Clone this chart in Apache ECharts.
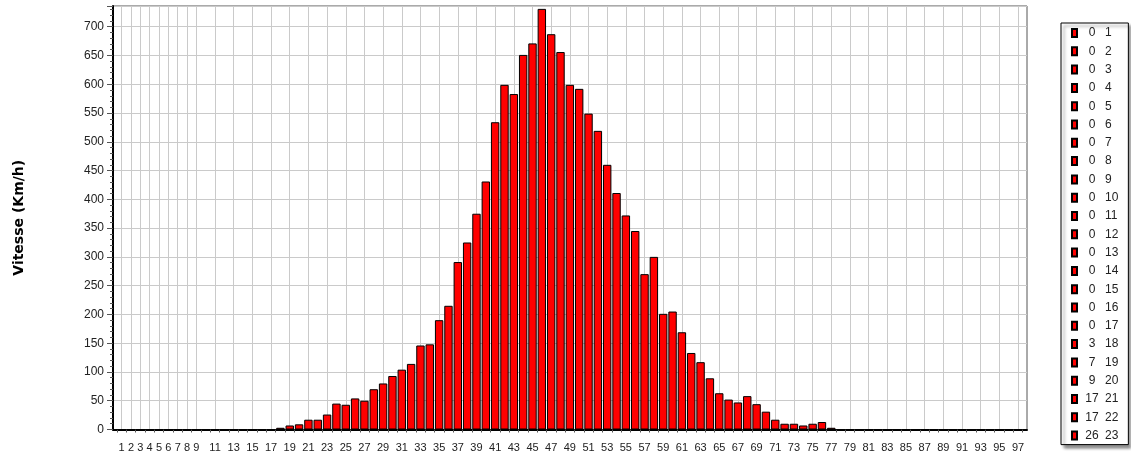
<!DOCTYPE html>
<html><head><meta charset="utf-8">
<script src="https://cdn.jsdelivr.net/npm/echarts@6/dist/echarts.min.js"></script>
<style>html,body{margin:0;padding:0;background:#fff}#c{width:1131px;height:460px}</style>
</head><body><div id="c"></div>
<script>
const categories = ['1','2','3','4','5','6','7','8','9','10','11','12','13','14','15','16','17','18','19','20',
'21','22','23','24','25','26','27','28','29','30','31','32','33','34','35','36','37','38','39','40',
'41','42','43','44','45','46','47','48','49','50','51','52','53','54','55','56','57','58','59','60',
'61','62','63','64','65','66','67','68','69','70','71','72','73','74','75','76','77','78','79','80',
'81','82','83','84','85','86','87','88','89','90','91','92','93','94','95','96','97'];
const values = [0,0,0,0,0,0,0,0,0,0,0,0,0,0,0,0,0,
3,7,9,17,17,26,45,43,54,50,70,80,93,104,114,146,148,
190,215,291,325,375,431,
534,599,583,651,671,731,687,656,599,592,
549,519,460,411,372,345,270,300,201,205,
169,133,117,89,63,52,47,58,44,31,
17,10,10,7,10,13,3,
0,0,0,0,0,0,0,0,0,0,0,0,0,0,0,0,0,0,0,0];
const legendCount = 23;
const yTitle = 'Vitesse (Km/h)';
const yMax = 736;

const legendNames = [];
for (let i = 0; i < legendCount; i++) legendNames.push(values[i] + ' ' + categories[i]);

const showCat = (idx, val) => { const n = +val; return n <= 9 || n % 2 === 1; };
const barStyle = { color: '#ff0000', borderColor: '#000', borderWidth: 1 };

const series = [{
  name: 'values', type: 'bar', data: values, xAxisIndex: 1, yAxisIndex: 1,
  stack: 's', barCategoryGap: '10%', itemStyle: barStyle, silent: true
}];
legendNames.forEach(n => series.push({
  name: n, type: 'bar', data: [], xAxisIndex: 1, yAxisIndex: 1, stack: 's', itemStyle: barStyle
}));

const chart = echarts.init(document.getElementById('c'), null, { renderer: 'canvas' });
chart.setOption({
  animation: false,
  backgroundColor: '#fff',
  textStyle: { fontFamily: 'Liberation Sans, Arial, sans-serif' },
  grid: [
    { left: 113, top: 6, width: 914, height: 423.5, show: true, borderColor: '#555', borderWidth: 1, backgroundColor: 'transparent' },
    { left: 117, top: 6, width: 905.7, height: 423.5 }
  ],
  xAxis: [
    { type: 'value', gridIndex: 0, min: 0, max: 1,
      axisLine: { show: true, onZero: false, lineStyle: { color: '#000', width: 2 } },
      axisTick: { show: false }, axisLabel: { show: false }, splitLine: { show: false } },
    { type: 'category', gridIndex: 1, data: categories,
      axisLine: { show: false },
      axisTick: { show: true, interval: 0, length: 3, lineStyle: { color: '#555' } },
      axisLabel: { interval: showCat, color: '#222', fontSize: 11, margin: 13 },
      splitLine: { show: true, interval: showCat, alignWithLabel: true, lineStyle: { color: '#cacaca', width: 1 } } }
  ],
  yAxis: [
    { type: 'value', gridIndex: 0, min: 0, max: yMax, interval: 50,
      name: yTitle, nameLocation: 'middle', nameGap: 87,
      nameTextStyle: { fontFamily: 'DejaVu Sans', fontWeight: 'bold', fontSize: 14, color: '#000' },
      axisLine: { show: true, lineStyle: { color: '#000', width: 2 } },
      axisTick: { show: true, length: 6, lineStyle: { color: '#555' } },
      minorTick: { show: true, splitNumber: 5, length: 3, lineStyle: { color: '#555' } },
      axisLabel: { color: '#222', fontSize: 12, margin: 9, formatter: v => (v % 50 === 0 ? String(v) : '') },
      splitLine: { show: true, lineStyle: { color: '#cacaca', width: 1 } } },
    { type: 'value', gridIndex: 1, min: 0, max: yMax, interval: 50, show: false,
      splitLine: { show: false } }
  ],
  legend: {
    orient: 'vertical', left: 1061, top: 23,
    data: legendNames,
    icon: 'rect', itemWidth: 5, itemHeight: 8, itemGap: 6.3,
    padding: [4, 10, 3, 10],
    backgroundColor: '#fff', borderColor: '#000', borderWidth: 1,
    shadowColor: 'rgba(0,0,0,0.45)', shadowBlur: 3, shadowOffsetX: 3, shadowOffsetY: 3,
    selectedMode: false,
    formatter: name => { const p = name.split(' '); return '{v|' + p[0] + '}{c|' + p[1] + '}'; },
    textStyle: {
      color: '#222', fontSize: 12,
      rich: {
        v: { width: 20, align: 'right', fontSize: 12, color: '#222' },
        c: { fontSize: 12, color: '#222', padding: [0, 0, 0, 3] }
      }
    }
  },
  series: series
});
</script>
</body></html>
